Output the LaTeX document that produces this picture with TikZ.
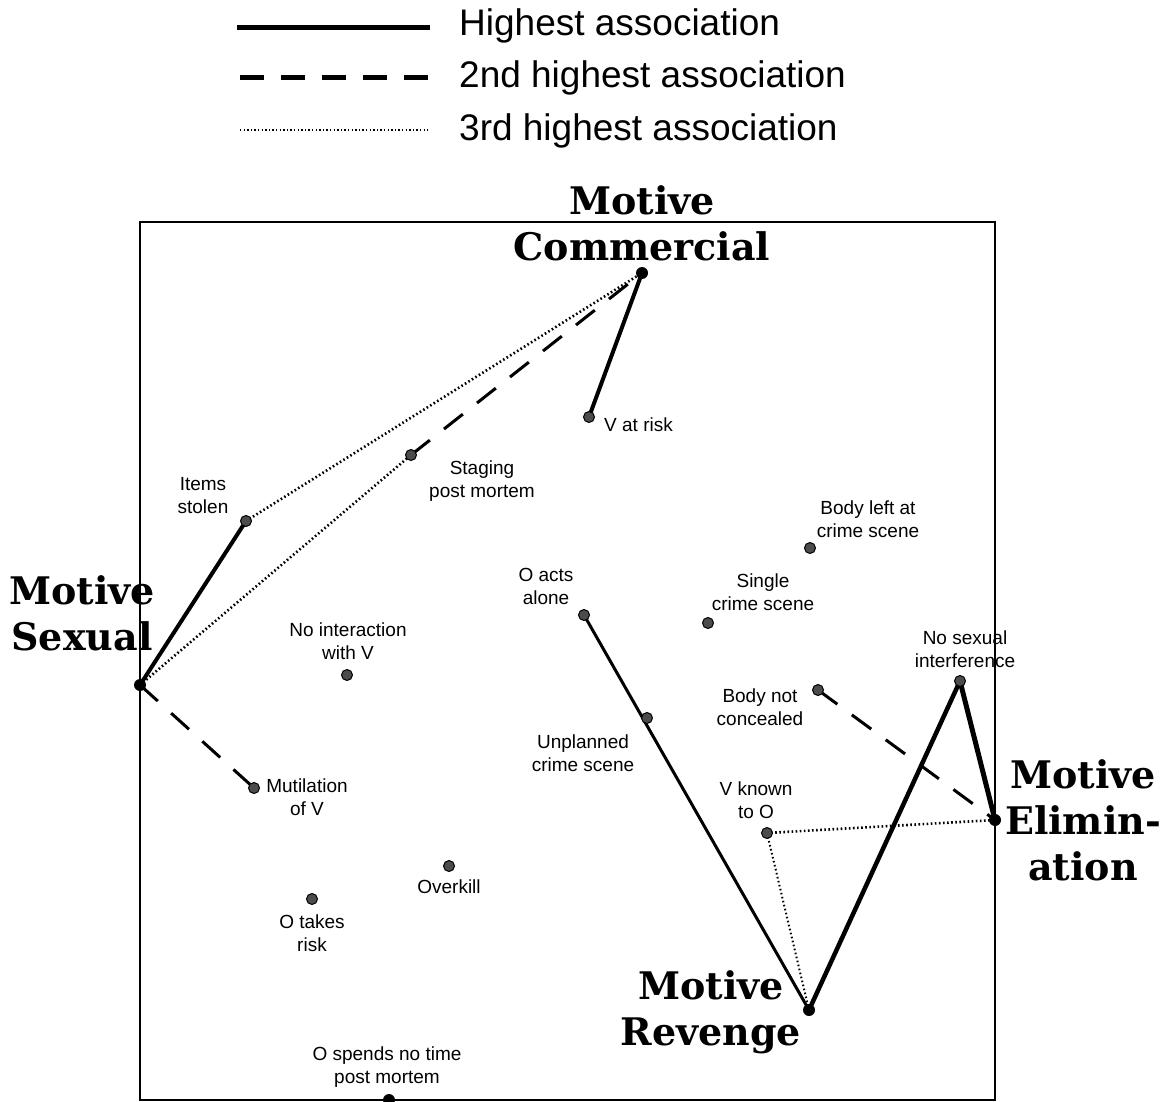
\documentclass[tikz,border=0pt]{standalone}
\usepackage{fontspec}
\setmainfont{Liberation Sans}
\newfontfamily\motivefont{DejaVu Serif}
\begin{document}
\begin{tikzpicture}[x=1pt,y=-1pt,
  highest/.style={line width=4pt},
  second/.style={line width=3pt, dash pattern=on 24pt off 18pt},
  third/.style={line width=2.6pt, dash pattern=on 1.6pt off 2.5pt},
  motivept/.style={circle, fill=black, inner sep=0pt, minimum size=12pt},
  featurept/.style={circle, draw=black, line width=1pt, fill=black!70, inner sep=0pt, minimum size=11pt},
  feat/.style={align=center, inner sep=0pt, font=\fontsize{19}{23}\selectfont},
  motive/.style={align=center, inner sep=0pt, font=\motivefont\bfseries\fontsize{38}{46}\selectfont},
  legendtext/.style={anchor=west, inner sep=0pt, font=\fontsize{37}{40}\selectfont}]

\useasboundingbox (0,0) rectangle (1167,1102);
\fill[white] (0,0) rectangle (1167,1102);

% legend
\coordinate (l1a) at (237,28);  \coordinate (l1b) at (430,28);
\coordinate (l2a) at (240,78);  \coordinate (l2b) at (430,78);
\coordinate (l3a) at (240,130); \coordinate (l3b) at (428,130);
\draw[line width=5pt] (l1a) -- (l1b);
\draw[line width=5pt, dash pattern=on 24pt off 17pt] (l2a) -- (l2b);
\draw[line width=2.2pt, dash pattern=on 1.4pt off 2.2pt] (l3a) -- (l3b);
\node[legendtext] (t1) at (459,26) {Highest association};
\node[legendtext] (t2) at (459,78) {2nd highest association};
\node[legendtext] (t3) at (459,131) {3rd highest association};

% frame
\draw[line width=1.5pt] (140,222) rectangle (995,1100);

% positions
\coordinate (sex)  at (140,685);
\coordinate (com)  at (642,273);
\coordinate (eli)  at (995,820);
\coordinate (rev)  at (809,1010);
\coordinate (vrisk) at (589,417);
\coordinate (stag) at (411,455);
\coordinate (items) at (246,521);
\coordinate (bodyleft) at (810,548);
\coordinate (single) at (708,623);
\coordinate (alone) at (584,615);
\coordinate (nointer) at (347,675);
\coordinate (nosex) at (960,681);
\coordinate (notconc) at (818,690);
\coordinate (unpl) at (647,718);
\coordinate (mutil) at (254,788);
\coordinate (vknown) at (767,833);
\coordinate (overkill) at (449,866);
\coordinate (takes) at (312,899);
\coordinate (notime) at (389,1100);

% associations
\draw[highest] (sex) -- (items);
\draw[second] (sex) -- (mutil);
\draw[third] (sex) -- (stag);
\draw[highest] (com) -- (vrisk);
\draw[second] (stag) -- (com);
\draw[third] (items) -- (com);
\draw[line width=3pt] (alone) -- (rev);
\draw[line width=4.5pt] (rev) -- (nosex);
\draw[third, line width=2pt] (vknown) -- (rev);
\draw[line width=5pt] (nosex) -- (eli);
\draw[second] (notconc) -- (eli);
\draw[third] (vknown) -- (eli);

% markers
\foreach \p in {vrisk,stag,items,bodyleft,single,alone,nointer,nosex,notconc,unpl,mutil,vknown,overkill,takes}
  \node[featurept] at (\p) {};
\foreach \p in {sex,com,eli,rev,notime}
  \node[motivept] at (\p) {};

% motive labels
\node[motive] (lcom) at (642,223) {Motive\\Commercial};
\node[motive] (lsex) at (82,613) {Motive\\Sexual};
\node[motive] (leli) at (1083,820) {Motive\\Elimin-\\ation};
\node[motive] (lrev) at (711,1012) {Motive\\Revenge};

% feature labels
\node[feat, anchor=west] (tvrisk) at (604,425) {V at risk};
\node[feat] (tstag) at (482,481) {Staging\\post mortem};
\node[feat] (titems) at (203,496) {Items\\stolen};
\node[feat] (tbodyleft) at (868,519) {Body left at\\crime scene};
\node[feat] (tsingle) at (763,592) {Single\\crime scene};
\node[feat] (talone) at (546,586) {O acts\\alone};
\node[feat] (tnointer) at (348,641) {No interaction\\with V};
\node[feat] (tnosex) at (965,649) {No sexual\\interference};
\node[feat] (tnotconc) at (760,707) {Body not\\concealed};
\node[feat] (tunpl) at (583,753) {Unplanned\\crime scene};
\node[feat] (tmutil) at (307,797) {Mutilation\\of V};
\node[feat] (tvknown) at (756,800) {V known\\to O};
\node[feat] (toverkill) at (449,887) {Overkill};
\node[feat] (ttakes) at (312,933) {O takes\\risk};
\node[feat] (tnotime) at (387,1067) {O spends no time\\post mortem};
\end{tikzpicture}
\end{document}
